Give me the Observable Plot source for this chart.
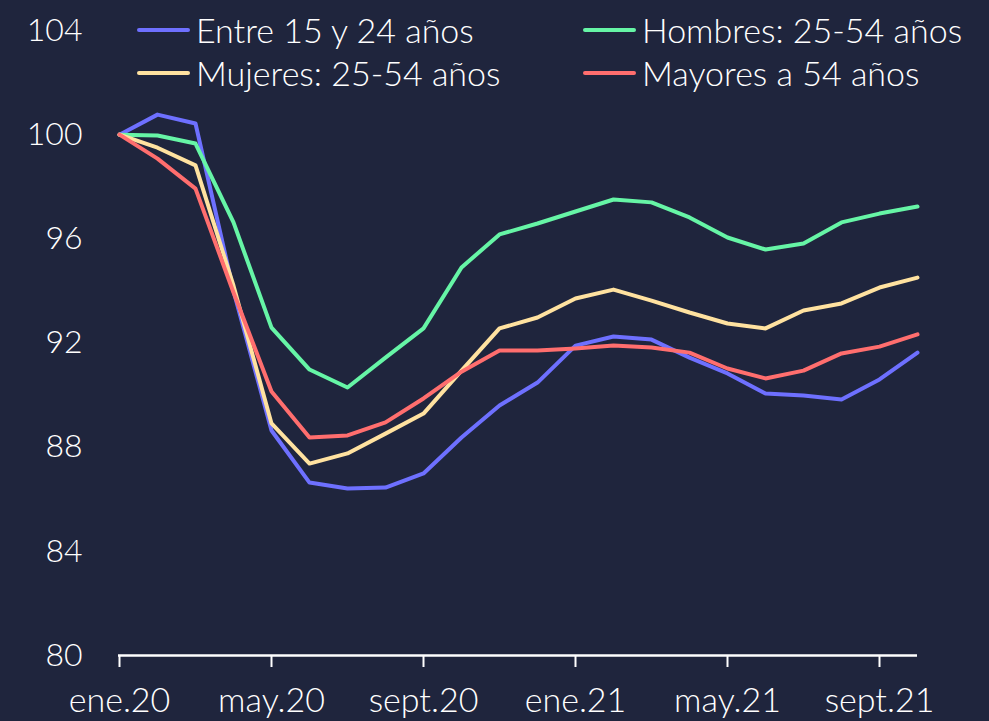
<!DOCTYPE html>
<html><head><meta charset="utf-8">
<script src="https://cdn.jsdelivr.net/npm/d3@7"></script>
<script src="https://cdn.jsdelivr.net/npm/@observablehq/plot@0.6"></script>
<style>
html,body{margin:0;padding:0;background:#1f253d;}
#wrap{position:relative;width:989px;height:721px;font-family:Lato,sans-serif;font-weight:300;color:#fff;overflow:hidden;}
.leg{position:absolute;display:flex;align-items:center;height:40px;font-size:34px;white-space:nowrap;line-height:40px;}
.sw{display:inline-block;width:53px;height:4px;border-radius:2px;margin-right:6px;}
svg{position:absolute;left:0;top:0;}
</style></head><body><div id="wrap"></div>
<script>
const months = ["ene.20","feb.20","mar.20","abr.20","may.20","jun.20","jul.20","ago.20","sept.20","oct.20","nov.20","dic.20",
  "ene.21","feb.21","mar.21","abr.21","may.21","jun.21","jul.21","ago.21","sept.21","oct.21"];
const tickLabels = ["ene.20","may.20","sept.20","ene.21","may.21","sept.21"];
const yTicks = [80,84,88,92,96,100,104];
const series = ["Entre 15 y 24 años","Hombres: 25-54 años","Mujeres: 25-54 años","Mayores a 54 años"];
const colors = ["#6e70ff","#66f5a6","#ffe2a0","#ff6e6e"];

const jovenes  = [100,100.77,100.43,94.0,88.64,86.64,86.41,86.45,86.99,88.37,89.6,90.48,91.9,92.25,92.13,91.44,90.83,90.06,89.98,89.83,90.6,91.63];
const hombres  = [100,99.97,99.66,96.63,92.59,90.98,90.29,91.44,92.56,94.9,96.17,96.59,97.05,97.51,97.4,96.82,96.05,95.59,95.82,96.63,96.97,97.24];
const mujeres  = [100,99.5,98.82,94.2,88.91,87.37,87.76,88.52,89.29,90.94,92.56,92.98,93.71,94.05,93.63,93.17,92.75,92.56,93.25,93.52,94.13,94.51];
const mayores  = [100,99.08,97.93,93.94,90.14,88.37,88.45,88.95,89.87,90.9,91.71,91.71,91.79,91.9,91.83,91.63,91.02,90.64,90.94,91.6,91.86,92.33];

const valuesBySeries = [jovenes, hombres, mujeres, mayores];
const data = [];
series.forEach((s, k) => valuesBySeries[k].forEach((v, i) => data.push({series: s, month: months[i], value: v})));

const chart = Plot.plot({
  width: 989, height: 721,
  marginLeft: 118, marginRight: 72, marginTop: 30, marginBottom: 66,
  style: {background: "transparent", color: "#fff", fontFamily: "Lato, sans-serif", fontSize: "32px", fontWeight: 300, overflow: "visible"},
  x: {type: "point", domain: months, padding: 0},
  y: {domain: [80, 104]},
  color: {domain: series, range: colors},
  marks: [
    Plot.axisY({ticks: yTicks, tickSize: 0, tickPadding: 36, label: null, fontSize: 32}),
    Plot.axisX({ticks: tickLabels, tickSize: 12, tickPadding: 20, label: null, fontSize: 34, stroke: "#fff", strokeWidth: 2}),
    Plot.ruleY([80], {stroke: "#fff", strokeWidth: 2.5}),
    Plot.line(data, {x: "month", y: "value", z: "series", stroke: "series", strokeWidth: 4, strokeLinecap: "round", strokeLinejoin: "round"})
  ]
});
const wrap = document.getElementById("wrap");
wrap.appendChild(chart);

const legPos = [[137, 10], [583, 10], [137, 53], [583, 53]];
series.forEach((s, k) => {
  const d = document.createElement("div");
  d.className = "leg";
  d.style.left = legPos[k][0] + "px";
  d.style.top = legPos[k][1] + "px";
  d.innerHTML = `<span class="sw" style="background:${colors[k]}"></span><span>${s}</span>`;
  wrap.appendChild(d);
});
</script></body></html>
